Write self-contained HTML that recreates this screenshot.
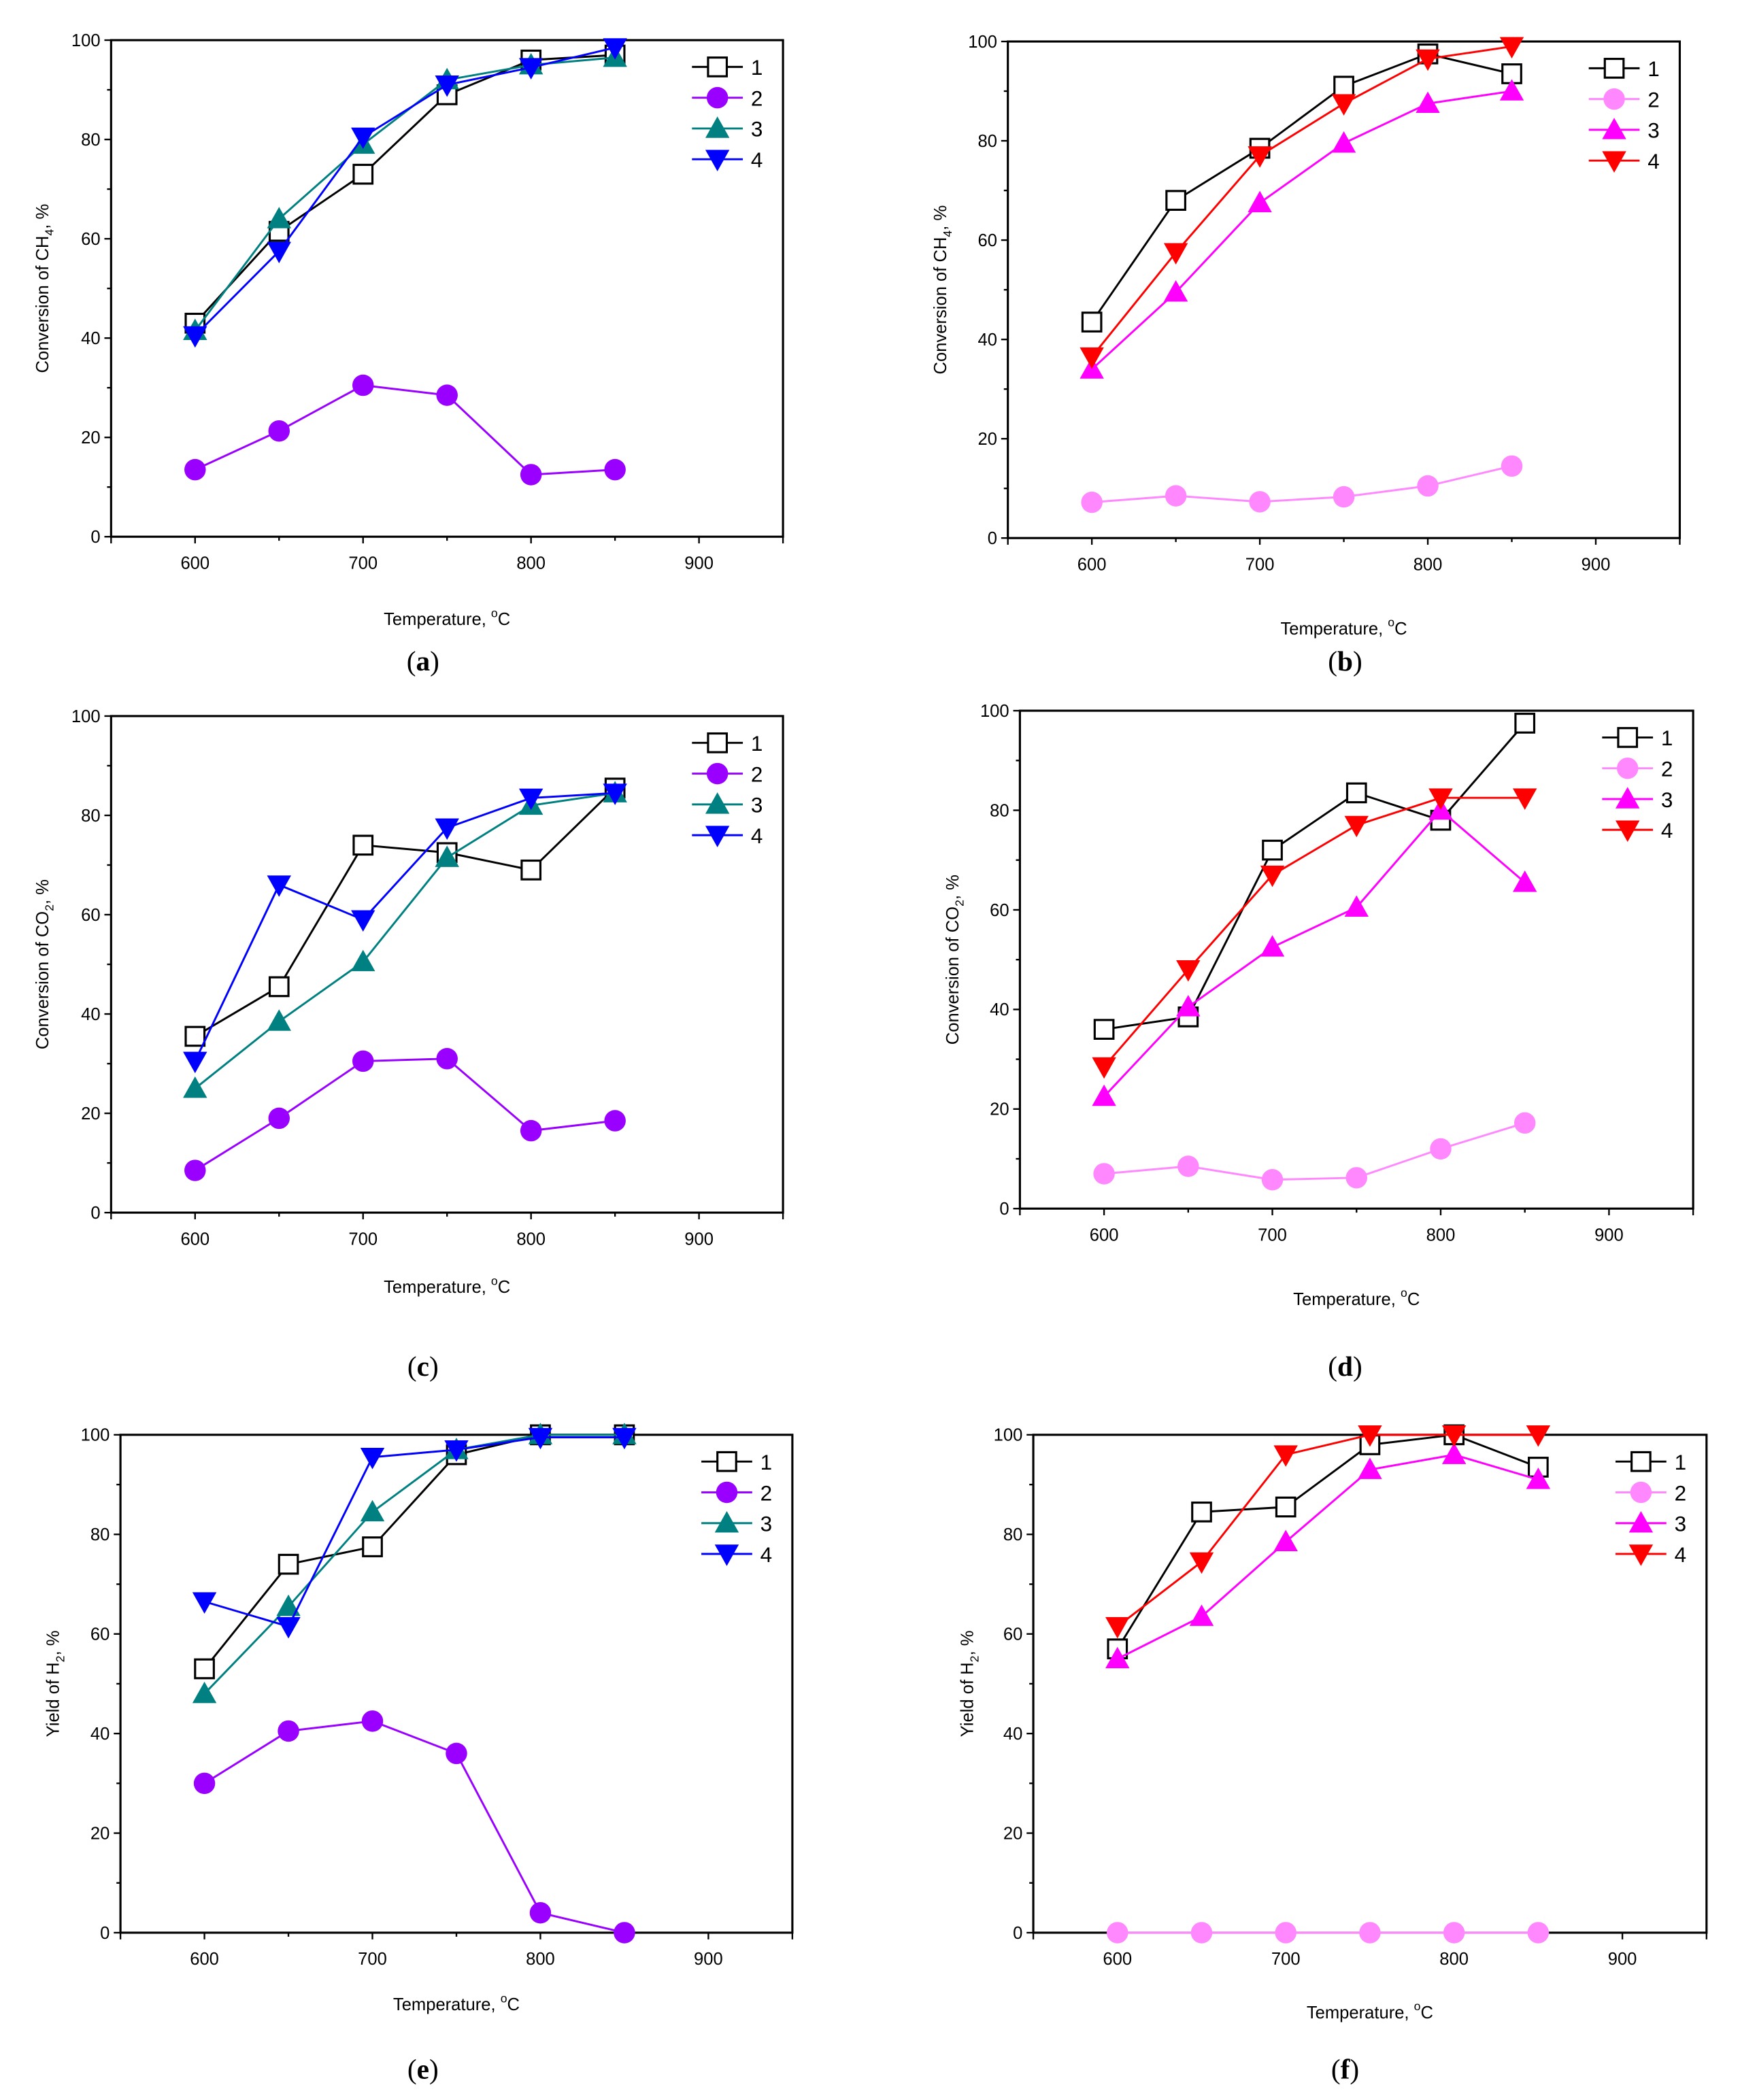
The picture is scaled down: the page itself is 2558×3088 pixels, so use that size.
<!DOCTYPE html>
<html><head><meta charset="utf-8"><style>
html,body{margin:0;padding:0;background:#fff;}
svg{display:block;}
text{font-family:"Liberation Sans",sans-serif;}
</style></head><body>
<svg id="fig" width="2558" height="3088" viewBox="0 0 1300 1569" preserveAspectRatio="none" xmlns="http://www.w3.org/2000/svg"></svg>
<script>
const temps = [600, 650, 700, 750, 800, 850];
const xTicks = [600, 700, 800, 900];
const yTicks = [0, 20, 40, 60, 80, 100];
const legendLabels = ["1", "2", "3", "4"];

const aS1 = [43, 61.5, 73, 89, 96, 97];
const aS2 = [13.5, 21.3, 30.5, 28.5, 12.5, 13.5];
const aS3 = [41.5, 64, 79, 92, 95, 96.5];
const aS4 = [40.5, 57.5, 80.5, 91, 94.5, 98.5];

const bS1 = [43.5, 68, 78.5, 91, 97.5, 93.5];
const bS2 = [7.2, 8.5, 7.3, 8.3, 10.5, 14.5];
const bS3 = [34, 49.5, 67.5, 79.5, 87.5, 90];
const bS4 = [36.5, 57.5, 77, 87.5, 96.5, 99];

const cS1 = [35.5, 45.5, 74, 72.5, 69, 85.5];
const cS2 = [8.5, 19, 30.5, 31, 16.5, 18.5];
const cS3 = [25, 38.5, 50.5, 71.5, 82, 84.5];
const cS4 = [30.5, 66, 59, 77.5, 83.5, 84.5];

const dS1 = [36, 38.5, 72, 83.5, 78, 97.5];
const dS2 = [7, 8.5, 5.8, 6.2, 12, 17.2];
const dS3 = [22.5, 40.5, 52.5, 60.5, 80, 65.5];
const dS4 = [28.5, 48, 67, 77, 82.5, 82.5];

const eS1 = [53, 74, 77.5, 96, 100, 100];
const eS2 = [30, 40.5, 42.5, 36, 4, 0];
const eS3 = [48, 65.5, 84.5, 97, 100, 100];
const eS4 = [66.5, 61.5, 95.5, 97, 99.5, 99.5];

const fS1 = [57, 84.5, 85.5, 98, 100, 93.5];
const fS2 = [0, 0, 0, 0, 0, 0];
const fS3 = [55, 63.5, 78.5, 93, 96, 91];
const fS4 = [61.5, 74.5, 96, 100, 100, 100];

const NS = "http://www.w3.org/2000/svg";
const svg = document.getElementById("fig");
function mk(tag, attrs, parent) {
  const e = document.createElementNS(NS, tag);
  for (const k in attrs) e.setAttribute(k, attrs[k]);
  (parent || svg).appendChild(e);
  return e;
}
const colsA = ["#000000", "#9900ff", "#008080", "#0000ff"];
const colsB = ["#000000", "#ff88ff", "#ff00ff", "#ff0000"];
const shapes = ["square", "circle", "up", "down"];

function marker(g, shape, cx, cy, col) {
  const r = 8;
  let m;
  if (shape === "square") m = mk("rect", {x: cx - 7, y: cy - 7, width: 14, height: 14, fill: "#fff", stroke: "#000", "stroke-width": 1.6}, g);
  else if (shape === "circle") m = mk("ellipse", {cx: cx, cy: cy, rx: 8, ry: 8, fill: col}, g);
  else if (shape === "up") m = mk("polygon", {points: `${cx},${cy - r - 1} ${cx - r - 1},${cy + r - 1} ${cx + r + 1},${cy + r - 1}`, fill: col}, g);
  else m = mk("polygon", {points: `${cx},${cy + r + 1} ${cx - r - 1},${cy - r + 1} ${cx + r + 1},${cy - r + 1}`, fill: col}, g);
  return m;
}

function panel(p) {
  const g = mk("g", {});
  
  
  const xs = v => p.x0 + (v - 550) / 400 * (p.x1 - p.x0);
  const ys = v => p.y1 - v / 100 * (p.y1 - p.y0);
  for (let v = 10; v < 100; v += 20) mk("line", {x1: p.x0 - 3, x2: p.x0, y1: ys(v), y2: ys(v), stroke: "#000", "stroke-width": 1.2}, g);
  for (let v = 650; v < 950; v += 100) mk("line", {x1: xs(v), x2: xs(v), y1: p.y1, y2: p.y1 + 3, stroke: "#000", "stroke-width": 1.2}, g);
  mk("line", {x1: p.x0, x2: p.x0, y1: p.y1, y2: p.y1 + 5, stroke: "#000", "stroke-width": 1.2}, g);
  mk("line", {x1: p.x1, x2: p.x1, y1: p.y1, y2: p.y1 + 5, stroke: "#000", "stroke-width": 1.2}, g);
  yTicks.forEach(v => {
    mk("line", {x1: p.x0 - 5, x2: p.x0, y1: ys(v), y2: ys(v), stroke: "#000", "stroke-width": 1.2}, g);
    const t = mk("text", {x: p.x0 - 8, y: ys(v) + 4.5, "text-anchor": "end", "font-size": 13}, g);
    t.textContent = v;
    
    
  });
  xTicks.forEach(v => {
    mk("line", {x1: xs(v), x2: xs(v), y1: p.y1, y2: p.y1 + 5, stroke: "#000", "stroke-width": 1.2}, g);
    const t = mk("text", {x: xs(v), y: p.y1 + 24, "text-anchor": "middle", "font-size": 13}, g);
    t.textContent = v;
    
    
  });
  const box = mk("rect", {x: p.x0, y: p.y0, width: p.x1 - p.x0, height: p.y1 - p.y0, fill: "none", stroke: "#000", "stroke-width": 1.6}, g);
  
  
  p.series.forEach((s, i) => {
    const sg = mk("g", {}, g);
    
    
    const pts = temps.map((t, j) => xs(t) + "," + ys(s[j])).join(" ");
    mk("polyline", {points: pts, fill: "none", stroke: p.cols[i], "stroke-width": 1.5}, sg);
    temps.forEach((t, j) => {
      const m = marker(sg, shapes[i], xs(t), ys(s[j]), p.cols[i]);
      
      
    });
  });
  legendLabels.forEach((lab, i) => {
    const lg = mk("g", {}, g);
    
    
    const ly = p.y0 + 20 + i * 23;
    const lx = p.x1 - 68;
    mk("line", {x1: lx, x2: lx + 38, y1: ly, y2: ly, stroke: p.cols[i], "stroke-width": 1.5}, lg);
    marker(lg, shapes[i], lx + 19, ly, p.cols[i]);
    const t = mk("text", {x: lx + 44, y: ly + 6, "font-size": 16}, lg);
    t.textContent = lab;
  });
  const yl = mk("text", {x: 0, y: 0, "text-anchor": "middle", "font-size": 13, transform: `translate(${p.ylx},${(p.y0 + p.y1) / 2}) rotate(-90)`}, g);
  yl.innerHTML = p.ylab;
  
  
  const xl = mk("text", {x: (p.x0 + p.x1) / 2, y: p.xly, "text-anchor": "middle", "font-size": 13}, g);
  xl.innerHTML = 'Temperature, <tspan dy="-6" font-size="9">o</tspan><tspan dy="6">C</tspan>';
  
  
  const pl = mk("text", {x: p.plx, y: p.ply, "text-anchor": "middle", "font-size": 21, style: "font-family:'Liberation Serif',serif"}, g);
  pl.innerHTML = '(<tspan font-weight="bold">' + p.id + '</tspan>)';
  
  
}

const ch4 = 'Conversion of CH<tspan dy="4" font-size="9">4</tspan><tspan dy="-4">, %</tspan>';
const co2 = 'Conversion of CO<tspan dy="4" font-size="9">2</tspan><tspan dy="-4">, %</tspan>';
const h2 = 'Yield of H<tspan dy="4" font-size="9">2</tspan><tspan dy="-4">, %</tspan>';

panel({id: "a", x0: 83, x1: 585, y0: 30, y1: 401, cols: colsA, series: [aS1, aS2, aS3, aS4], ylab: ch4, ylx: 36, xly: 467, plx: 316, ply: 501});
panel({id: "b", x0: 753, x1: 1255, y0: 31, y1: 402, cols: colsB, series: [bS1, bS2, bS3, bS4], ylab: ch4, ylx: 707, xly: 474, plx: 1005, ply: 501});
panel({id: "c", x0: 83, x1: 585, y0: 535, y1: 906, cols: colsA, series: [cS1, cS2, cS3, cS4], ylab: co2, ylx: 36, xly: 966, plx: 316, ply: 1028});
panel({id: "d", x0: 762, x1: 1265, y0: 531, y1: 903, cols: colsB, series: [dS1, dS2, dS3, dS4], ylab: co2, ylx: 716, xly: 975, plx: 1005, ply: 1028});
panel({id: "e", x0: 90, x1: 592, y0: 1072, y1: 1444, cols: colsA, series: [eS1, eS2, eS3, eS4], ylab: h2, ylx: 44, xly: 1502, plx: 316, ply: 1553});
panel({id: "f", x0: 772, x1: 1275, y0: 1072, y1: 1444, cols: colsB, series: [fS1, fS2, fS3, fS4], ylab: h2, ylx: 727, xly: 1508, plx: 1005, ply: 1553});
</script>
</body></html>
